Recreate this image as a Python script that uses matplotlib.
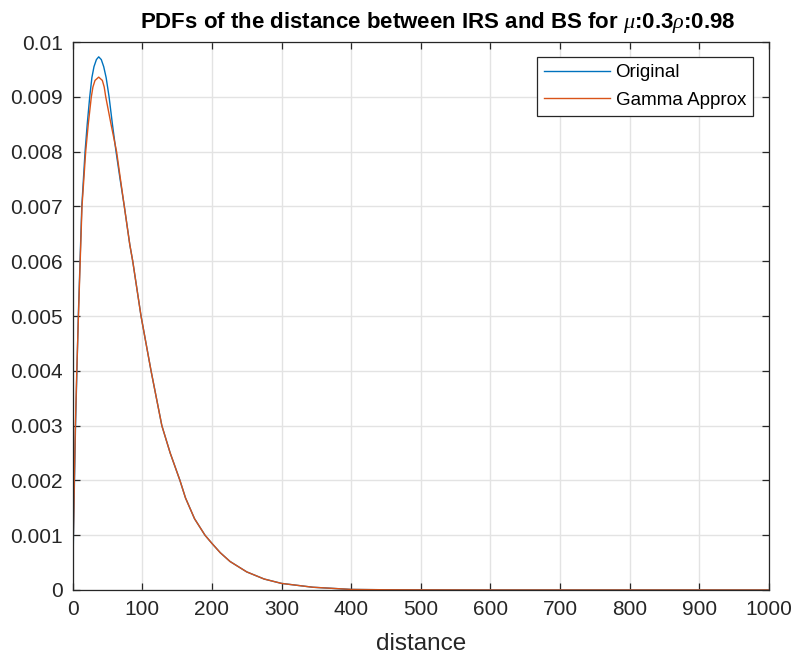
import matplotlib
matplotlib.use("Agg")
import matplotlib.pyplot as plt

plt.rcParams['font.family'] = ['Liberation Sans', 'DejaVu Sans']
plt.rcParams['mathtext.fontset'] = 'custom'
plt.rcParams['mathtext.it'] = 'Liberation Serif:italic'

# Original PDF samples (distance, density)
orig_x = [0, 1, 2.5, 4, 6, 8, 10.5, 13, 17.7, 20.8, 24.4, 27.5, 30.5, 34,
          37.3, 41, 44.5, 48, 52.2, 57, 62.2, 68, 74.1, 82, 86.2, 98.1, 112.5,
          128, 140, 154, 162, 175, 190, 200, 212, 226, 250, 275, 300, 345,
          400, 450, 500, 600, 700, 800, 900, 1000]
orig_y = [0, 0.001, 0.002, 0.003, 0.004, 0.005, 0.006, 0.007, 0.008, 0.0085,
          0.009, 0.00935, 0.00955, 0.00968, 0.00973, 0.00968, 0.00955,
          0.00935, 0.009, 0.0085, 0.008, 0.0075, 0.007, 0.0063, 0.006, 0.005,
          0.004, 0.003, 0.0025, 0.002, 0.00168, 0.0013, 0.001, 0.00085,
          0.00068, 0.00052, 0.00033, 0.0002, 0.00012, 0.00005, 0.00001,
          0.000004, 0.000002, 0, 0, 0, 0, 0]

# Gamma approximation samples
gam_x = [0, 0.9, 2.3, 3.8, 5.8, 8.2, 10.7, 13.3, 18.6, 22.3, 26.7, 29, 32,
         37.3, 42.5, 45.2, 47.4, 55, 63, 68.5, 74.1, 82, 86.2, 98.1, 112.5,
         128, 140, 154, 162, 175, 190, 200, 212, 226, 250, 275, 300, 345, 400,
         450, 500, 600, 700, 800, 900, 1000]
gam_y = [0, 0.001, 0.002, 0.003, 0.004, 0.005, 0.006, 0.007, 0.008, 0.0085,
         0.009, 0.00918, 0.0093, 0.00936, 0.0093, 0.00918, 0.009, 0.0085,
         0.008, 0.0075, 0.007, 0.0063, 0.006, 0.005, 0.004, 0.003, 0.0025,
         0.002, 0.00168, 0.0013, 0.001, 0.00085, 0.00068, 0.00052, 0.00033,
         0.0002, 0.00012, 0.00005, 0.00001, 0.000004, 0.000002, 0, 0, 0, 0, 0]

x_ticks = list(range(0, 1001, 100))
y_ticks = [0, 0.001, 0.002, 0.003, 0.004, 0.005, 0.006, 0.007, 0.008, 0.009, 0.01]
y_ticklabels = ['0', '0.001', '0.002', '0.003', '0.004', '0.005', '0.006',
                '0.007', '0.008', '0.009', '0.01']

fig = plt.figure(figsize=(7.95, 6.57), dpi=100)
ax = fig.add_axes([0.0915, 0.102, 0.8755, 0.834])

ax.plot(orig_x, orig_y, color='#0072BD', lw=1.0, label='Original')
ax.plot(gam_x, gam_y, color='#D95319', lw=1.0, label='Gamma Approx')

ax.set_xlim(0, 1000)
ax.set_ylim(0, 0.01)
ax.set_xticks(x_ticks)
ax.set_yticks(y_ticks)
ax.set_yticklabels(y_ticklabels)

ax.grid(True, color='#E3E3E3', lw=1.0)
ax.set_axisbelow(True)
for s in ax.spines.values():
    s.set_color('#262626')
    s.set_linewidth(0.9)
ax.tick_params(direction='in', length=5, width=0.9, colors='#262626',
               labelsize=15, top=True, right=True, pad=7)

ax.set_xlabel('distance', fontsize=17.5, color='#262626', labelpad=10)
ax.set_title(r'PDFs of the distance between IRS and BS for $\mu$:0.3$\rho$:0.98',
             fontsize=16, fontweight='bold', pad=10, x=0.525)

leg = ax.legend(loc='upper right', bbox_to_anchor=(0.978, 0.973),
                fontsize=13.5, frameon=True, fancybox=False, framealpha=1,
                edgecolor='#262626', borderpad=0.4, borderaxespad=0,
                handlelength=3.5, handletextpad=0.3, labelspacing=0.55)
leg.get_frame().set_linewidth(0.9)

fig.savefig('out.png', dpi=100)
